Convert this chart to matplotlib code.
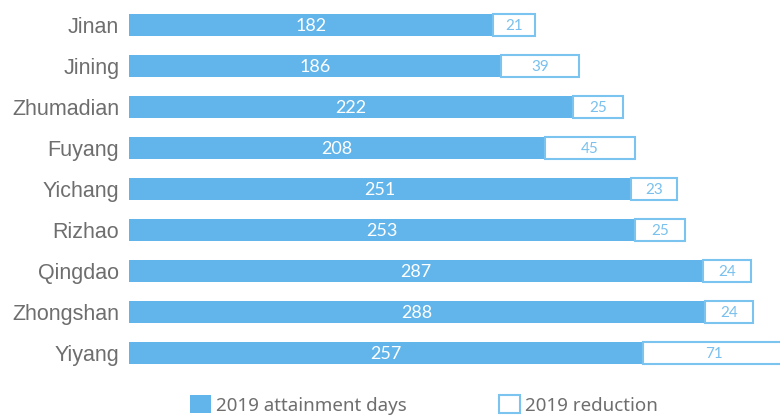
import matplotlib
matplotlib.use("Agg")
import matplotlib.pyplot as plt
from matplotlib.patches import Patch

cities = ["Jinan", "Jining", "Zhumadian", "Fuyang", "Yichang",
          "Rizhao", "Qingdao", "Zhongshan", "Yiyang"]
attainment_days = [182, 186, 222, 208, 251, 253, 287, 288, 257]
reduction_days = [21, 39, 25, 45, 23, 25, 24, 24, 71]

fill_blue = "#62b5ea"
edge_blue = "#7cc4f0"
label_blue = "#79c0ee"
text_gray = "#6e6e6e"

fig = plt.figure(figsize=(7.8, 4.15), dpi=100)
ax = fig.add_axes([129 / 780, 1 - 385 / 415, 1 - 129 / 780, 385 / 415])

y = list(range(len(cities)))
h = 0.56
ax.barh(y, attainment_days, height=h, color=fill_blue, edgecolor="none")
ax.barh(y, reduction_days, left=attainment_days, height=h - 0.03,
        color="white", edgecolor=edge_blue, linewidth=1.5)

for yi, a, r in zip(y, attainment_days, reduction_days):
    ax.text(a / 2, yi + 0.02, str(a), ha="center", va="center", color="white",
            fontsize=13, family="Lato")
    ax.text(a + r / 2, yi + 0.02, str(r), ha="center", va="center", color=label_blue,
            fontsize=11, family="Lato")

ax.set_xlim(0, 325.5)
ax.set_ylim(8 + 0.78, -25 / 41)
ax.set_yticks(y)
ax.set_yticklabels(cities, fontsize=15.5, color=text_gray, family="Liberation Sans")
ax.tick_params(axis="y", length=0, pad=7)
ax.set_xticks([])
for s in ax.spines.values():
    s.set_visible(False)

handles = [Patch(facecolor=fill_blue, edgecolor="none", label="2019 attainment days"),
           Patch(facecolor="white", edgecolor=edge_blue, linewidth=1.5,
                 label="2019 reduction")]
fig.legend(handles=handles, loc="center", bbox_to_anchor=(424 / 780, 1 - 405 / 415),
           ncol=2, frameon=False, handlelength=1.1, handleheight=1.1,
           handletextpad=0.3, columnspacing=4.9,
           prop={"family": "Noto Sans", "size": 13.5},
           labelcolor=text_gray)

fig.savefig("out.png", dpi=100)
